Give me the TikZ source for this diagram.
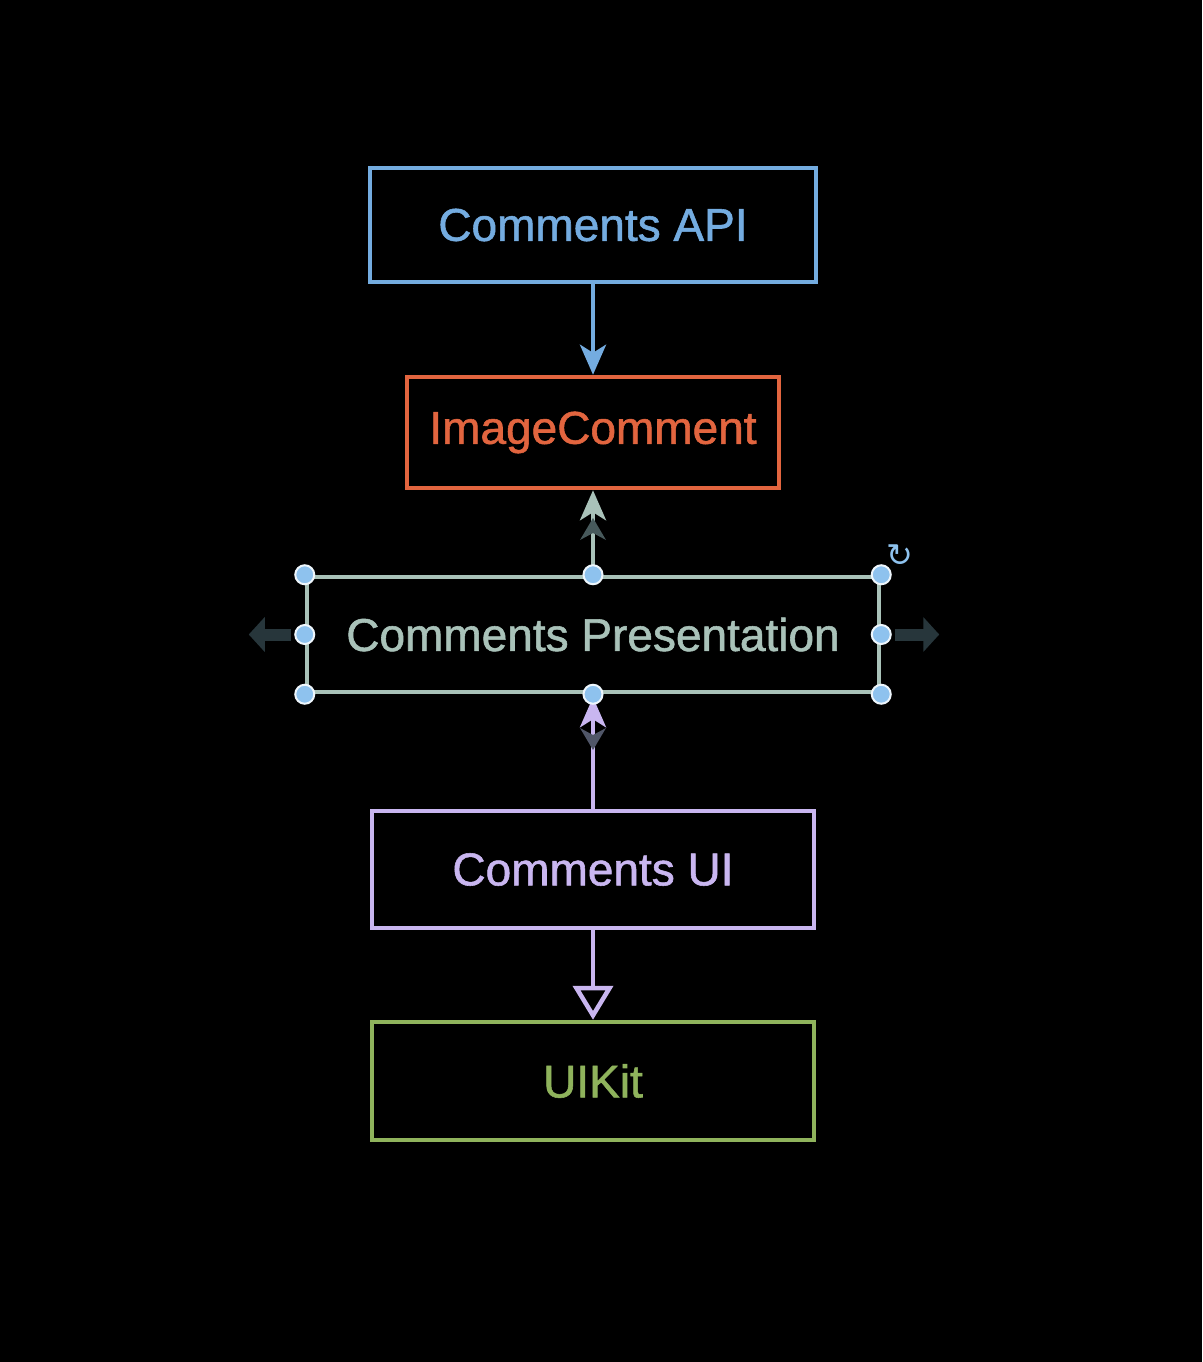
\documentclass[tikz,border=0pt]{standalone}
\usepackage{fontspec}
\setmainfont{Liberation Sans}
\newfontfamily\boxfont[FakeBold=1.2]{Liberation Sans}
\newfontfamily\symfont{DejaVu Sans}
\usetikzlibrary{arrows.meta}

\definecolor{apiblue}{HTML}{74ACE0}
\definecolor{modelred}{HTML}{E2653F}
\definecolor{presgray}{HTML}{A9C2B9}
\definecolor{uililac}{HTML}{C9B6F0}
\definecolor{kitgreen}{HTML}{8FB35C}
\definecolor{handleblue}{HTML}{8EC2EE}
\definecolor{ghost}{HTML}{27363B}

\begin{document}
\begin{tikzpicture}[
			x=1pt, y=-1pt,
			box/.style = {draw, line width=4.5pt, inner sep=0pt,
				font=\fontsize{46}{50}\boxfont},
			link/.style = {line width=4.5pt, -{Stealth[length=30pt, width=26pt, inset=8pt]}},
			inherit/.style = {line width=4.5pt, -{Triangle[open, length=34pt, width=40pt]}},
			handle/.style = {circle, fill=handleblue, draw=white!85!handleblue,
				line width=2pt, minimum size=19pt, inner sep=0pt}
		]
		\fill[black] (0,0) rectangle (1202,1362);
		\useasboundingbox (0,0) rectangle (1202,1362);
		% Modules.
		\node[box, draw=apiblue, text=apiblue, minimum width=446pt, minimum height=114pt] (api) at (593,225) {Comments API};
		\node[box, draw=modelred, text=modelred, minimum width=372pt, minimum height=111pt] (model) at (593,432.5) {ImageComment};
		\node[box, draw=presgray, text=presgray, minimum width=572pt, minimum height=115pt] (pres) at (593,634.5) {Comments Presentation};
		\node[box, draw=uililac, text=uililac, minimum width=442pt, minimum height=117pt] (ui) at (593,869.5) {Comments UI};
		\node[box, draw=kitgreen, text=kitgreen, minimum width=442pt, minimum height=118pt] (kit) at (593,1081) {UIKit};

		% Dependencies.
		\draw[link, apiblue] (api) -- (model);
		\draw[link, presgray] (pres) -- (model);
		\draw[link, uililac] (ui) -- ([yshift=-3pt]pres.south);
		\draw[inherit, uililac] (ui) -- (kit);

		% Faint drag hints.
		\fill[ghost!75!presgray] (580,540) -- (593,518) -- (606,540) -- (593,533) -- cycle;
		\fill[ghost!75!uililac] (580,728) -- (593,750) -- (606,728) -- (593,735) -- cycle;
		\draw[ghost, line width=12pt, -{Triangle[length=16pt, width=34pt]}] ([xshift=-14pt]pres.west) -- ++(-42,0) coordinate (lefthint);
		\draw[ghost, line width=12pt, -{Triangle[length=16pt, width=34pt]}] ([xshift=14pt]pres.east) -- ++(44,0) coordinate (righthint);

		% Selection handles.
		\foreach \a in {north west, north, north east, west, east, south west, south, south east}
			\node[handle] at (pres.\a) {};
		\node[text=handleblue, font=\fontsize{32}{32}\symfont] (rotate) at (900,556) {↻};
	\end{tikzpicture}
\end{document}
